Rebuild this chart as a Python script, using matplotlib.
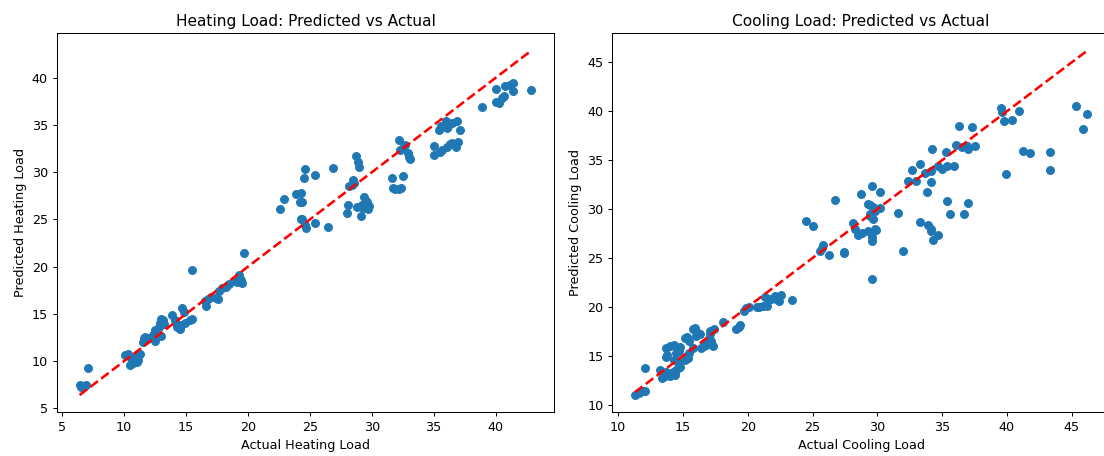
import matplotlib
matplotlib.use("Agg")
import matplotlib.pyplot as plt
import numpy as np

# Heating load: actual vs predicted
heat_actual = [6.4, 6.5, 6.6, 6.9, 7.1,
               10.1, 10.3, 10.4, 10.5, 10.6, 10.7, 10.8, 10.9, 11.0, 11.1, 11.2, 11.3, 10.6,
               11.5, 11.6, 11.7, 11.8, 12.1, 12.3, 12.5, 12.5, 12.9, 13.0, 13.1, 13.0, 12.8, 13.2,
               13.9, 14.1, 14.3, 14.5, 14.6, 14.7, 14.8, 14.9, 15.3, 15.5, 14.2,
               15.5,
               16.5, 16.6, 16.8, 17.0, 17.4, 17.6, 17.7, 17.9, 18.2, 18.5, 19.0, 19.1, 19.3, 19.5, 19.7, 19.4,
               22.6, 22.9, 23.9, 24.2, 24.3, 24.4, 24.5, 24.6, 24.3, 24.4, 24.7, 24.6, 25.4, 25.4, 26.5, 26.9,
               28.0, 28.1, 28.2, 28.4, 28.6, 28.7, 28.9, 29.0, 29.1, 29.2, 29.4, 29.5, 29.6, 29.8, 29.7, 28.5, 29.3, 28.8,
               31.6, 31.7, 31.9, 32.2, 32.4, 32.5, 32.2, 32.3, 32.5, 32.7, 32.9, 33.1, 33.0,
               35.0, 35.0, 35.4, 35.6, 35.8, 36.0, 36.1, 36.2, 36.5, 36.9, 37.1, 35.7, 36.1, 36.5, 36.8, 37.0, 35.5, 36.3,
               38.9, 40.0, 40.0, 40.3, 40.5, 40.7, 40.8, 41.2, 41.4, 41.4, 42.9]
heat_pred = [7.5, 7.3, 7.4, 7.5, 9.3,
             10.6, 10.7, 10.5, 9.6, 9.9, 9.8, 10.3, 10.0, 9.9, 10.1, 10.7, 10.7, 10.2,
             12.0, 12.4, 12.6, 12.2, 12.4, 12.8, 13.3, 12.1, 14.0, 14.5, 14.3, 12.7, 13.6, 13.9,
             14.9, 14.3, 13.6, 13.4, 13.8, 15.6, 15.2, 14.0, 14.4, 14.5, 14.0,
             19.6,
             16.4, 15.8, 16.6, 16.8, 16.7, 16.6, 17.4, 17.7, 17.9, 18.2, 18.5, 18.4, 19.1, 18.3, 21.4, 18.6,
             26.1, 27.2, 27.7, 26.9, 27.8, 26.9, 29.4, 30.3, 25.0, 25.1, 24.1, 24.4, 24.6, 29.7, 24.2, 30.5,
             25.7, 26.5, 28.6, 28.7, 28.9, 31.7, 31.1, 30.6, 25.4, 26.5, 27.4, 27.0, 26.9, 26.4, 26.1, 29.2, 26.2, 26.3,
             29.4, 28.3, 28.2, 28.2, 28.3, 29.6, 33.4, 32.4, 32.6, 32.9, 32.0, 31.4, 31.6,
             32.8, 31.8, 34.5, 34.9, 35.0, 35.4, 34.7, 34.9, 35.2, 35.4, 34.5, 32.4, 32.7, 33.1, 32.7, 33.2, 32.2, 33.0,
             36.9, 38.8, 37.4, 37.3, 37.9, 38.1, 39.1, 39.3, 39.5, 38.6, 38.75]

# Cooling load: actual vs predicted
cool_actual = [11.3, 11.6, 11.9, 12.1, 12.1,
               13.2, 13.4, 13.6, 13.9, 14.1, 14.2, 14.5, 14.6, 14.8, 14.4, 14.0, 13.7, 14.6, 14.5, 14.7,
               13.7, 13.8, 14.0, 13.7, 14.3, 14.6, 14.8, 14.3,
               15.2, 15.3, 15.2, 15.4, 15.5, 15.8, 15.9, 16.0, 16.2, 16.3, 16.4, 16.6, 16.7, 16.8, 17.0,
               17.1, 17.1, 17.2, 17.3, 17.4, 15.5, 15.8,
               18.1, 19.1, 19.35, 19.4, 19.7, 19.9, 20.1,
               20.7, 20.9, 21.2, 21.3, 21.5, 21.6, 21.8, 22.1, 22.2, 22.4, 22.6, 23.4,
               24.5, 25.0, 25.6, 25.7, 25.8, 26.3, 27.4, 26.7,
               28.7, 29.6, 30.2, 29.3, 29.4, 29.7, 29.8, 29.4, 30.2, 29.4, 29.7, 28.1, 28.3, 28.5,
               29.3, 29.6, 29.6, 29.9, 29.8, 27.4, 29.6, 28.8,
               31.6, 32.0, 32.4, 32.7, 33.0, 33.3, 33.8, 34.1, 34.2, 33.7, 34.1, 34.7, 35.0, 35.3,
               35.4, 33.3, 33.9, 34.1, 34.1, 34.3, 34.7,
               35.9, 36.1, 36.3, 36.5, 36.9, 37.0, 37.3, 37.5, 35.4, 37.0, 35.6, 36.7,
               39.5, 39.6, 39.8, 40.4, 40.9, 39.9, 41.2, 41.8, 43.3, 43.3, 45.3, 46.2, 45.9]
cool_pred = [11.0, 11.2, 11.4, 11.4, 13.8,
             13.6, 12.7, 12.9, 13.1, 13.2, 13.4, 13.6, 13.8, 13.9, 13.1, 12.9, 13.4, 14.4, 15.3, 15.5,
             15.8, 15.1, 16.0, 14.9, 16.1, 15.6, 15.9, 14.6,
             16.8, 16.9, 14.6, 14.8, 15.3, 17.7, 17.9, 17.0, 17.3, 17.2, 15.8, 16.0, 16.3, 16.1, 16.7,
             17.2, 17.5, 16.5, 16.0, 17.7, 16.5, 15.8,
             18.5, 17.7, 18.0, 18.2, 19.6, 19.9, 20.0,
             20.0, 20.0, 20.1, 21.0, 20.1, 20.8, 20.8, 21.1, 20.8, 20.6, 21.2, 20.7,
             28.8, 28.3, 25.7, 26.0, 26.3, 25.3, 25.6, 30.9,
             31.5, 32.4, 31.7, 30.5, 30.4, 30.2, 29.8, 29.5, 30.1, 29.3, 29.0, 28.6, 28.0, 27.4,
             27.8, 27.1, 26.7, 27.9, 28.0, 25.5, 22.9, 27.6,
             29.6, 25.7, 32.9, 34.0, 32.9, 34.6, 31.7, 32.8, 36.1, 33.7, 33.9, 34.4, 34.1, 35.8,
             34.4, 28.7, 28.4, 28.0, 27.8, 26.8, 27.4,
             34.4, 36.5, 38.5, 36.3, 36.4, 36.1, 38.4, 36.4, 30.8, 30.6, 29.5, 29.5,
             40.3, 39.9, 39.0, 39.1, 40.0, 33.6, 35.9, 35.7, 35.8, 34.0, 40.5, 39.7, 38.2]

titles = ["Heating Load: Predicted vs Actual", "Cooling Load: Predicted vs Actual"]
xlabels = ["Actual Heating Load", "Actual Cooling Load"]
ylabels = ["Predicted Heating Load", "Predicted Cooling Load"]

DPI = 92
W, H = 1104.0, 456.0
fig = plt.figure(figsize=(W / DPI, H / DPI), dpi=DPI)
ax1 = fig.add_axes([57 / W, (H - 412.3) / H, 497 / W, 379 / H])
ax2 = fig.add_axes([612.3 / W, (H - 412.3) / H, 497.7 / W, 379 / H])

for ax, act, pred, t, xl, yl in [(ax1, heat_actual, heat_pred, titles[0], xlabels[0], ylabels[0]),
                                 (ax2, cool_actual, cool_pred, titles[1], xlabels[1], ylabels[1])]:
    ax.scatter(act, pred, color="#1f77b4")
    lo, hi = min(act), max(act)
    ax.plot([lo, hi], [lo, hi], "r--", lw=2)
    ax.set_title(t)
    ax.set_xlabel(xl)
    ax.set_ylabel(yl)

fig.savefig("out.png", dpi=DPI)
